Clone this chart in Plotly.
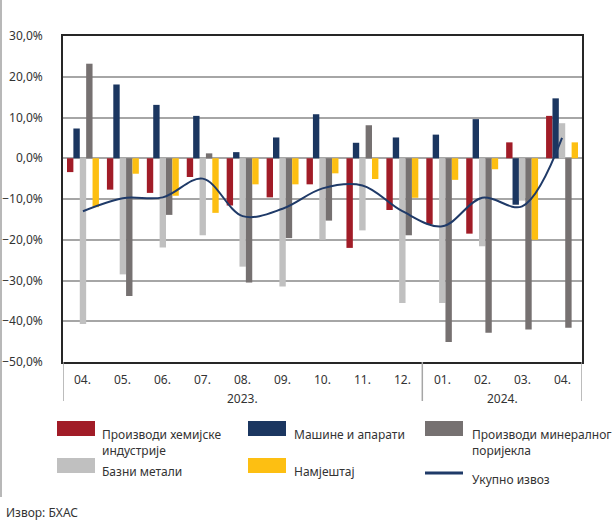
import plotly.graph_objects as go

# ---- data ----
months = ["04.", "05.", "06.", "07.", "08.", "09.", "10.", "11.", "12.", "01.", "02.", "03.", "04."]
years = ["2023.", "2023.", "2023.", "2023.", "2023.", "2023.", "2023.", "2023.", "2023.",
         "2024.", "2024.", "2024.", "2024."]
year_labels = ["2023.", "2024."]

hemija = [-3.4, -7.7, -8.5, -4.6, -11.6, -9.6, -6.4, -22.0, -12.7, -16.2, -18.5, 3.9, 10.4]
masine = [7.3, 18.1, 13.1, 10.4, 1.5, 5.1, 10.8, 3.8, 5.1, 5.8, 9.6, -11.4, 14.7]
bazni = [-40.7, -28.5, -21.9, -18.9, -26.6, -31.5, -20.0, -17.7, -35.5, -35.5, -21.6, -10.4, 8.6]
mineral = [23.2, -33.8, -13.9, 1.2, -30.5, -19.6, -15.3, 8.1, -18.9, -45.1, -42.8, -42.0, -41.6]
namjestaj = [-12.0, -3.8, -9.2, -13.4, -6.4, -6.4, -3.7, -5.1, -9.7, -5.3, -2.7, -20.0, 3.9]
ukupno = [-13.0, -9.8, -9.6, -5.0, -14.2, -12.4, -7.4, -6.7, -13.0, -16.7, -9.7, -11.8, 5.0]

names = {
    "hemija": "Производи хемијске<br>индустрије",
    "masine": "Машине и апарати",
    "mineral": "Производи минералног<br>поријекла",
    "bazni": "Базни метали",
    "namjestaj": "Намјештај",
    "ukupno": "Укупно извоз",
}
colors = {
    "hemija": "#A11C27",
    "masine": "#1B3660",
    "mineral": "#767171",
    "bazni": "#C0C0C0",
    "namjestaj": "#FDBF12",
    "ukupno": "#1F3A68",
}

cats = [m + y for m, y in zip(months, years)]

W, H = 616, 521
L, R, T, B = 63, 582, 36, 362
FONT = "Noto Sans"
TXT = "#333333"


def px(xp):
    return (xp - L) / (R - L)


def py(yp):
    return (B - yp) / (B - T)


fig = go.Figure()
for key, vals in [("hemija", hemija), ("masine", masine), ("bazni", bazni),
                  ("mineral", mineral), ("namjestaj", namjestaj)]:
    fig.add_trace(go.Bar(x=cats, y=vals, name=names[key], marker_color=colors[key],
                         marker_line_width=0, showlegend=False))
fig.add_trace(go.Scatter(x=cats, y=ukupno, name=names["ukupno"], mode="lines",
                         line=dict(color=colors["ukupno"], width=2, shape="spline", smoothing=1.0),
                         showlegend=False))

shapes = []
annotations = []

# month labels
for i, m in enumerate(months):
    annotations.append(dict(x=i, y=py(380), xref="x", yref="paper", text=m, showarrow=False,
                            font=dict(size=12, color=TXT, family=FONT), xanchor="center", yanchor="middle"))
# year labels
spans = []
for yl in year_labels:
    a = years.index(yl)
    b = len(years) - 1 - years[::-1].index(yl)
    spans.append((yl, a, b))
for yl, a, b in spans:
    annotations.append(dict(x=(a + b) / 2, y=py(398), xref="x", yref="paper", text=yl, showarrow=False,
                            font=dict(size=12, color=TXT, family=FONT), xanchor="center", yanchor="middle"))
# separators below the axis
for xv in [-0.5, spans[0][2] + 0.5, len(months) - 0.5]:
    shapes.append(dict(type="line", xref="x", yref="paper", x0=xv, x1=xv, y0=0, y1=py(401),
                       line=dict(color="#A6A6A6", width=1.5)))

# manual legend
legend_items = [
    ("hemija", 57, 421, 100, 432, "bar"),
    ("masine", 248, 421, 292, 432, "bar"),
    ("mineral", 425, 421, 470, 432, "bar"),
    ("bazni", 57, 458, 100, 469, "bar"),
    ("namjestaj", 248, 458, 292, 469, "bar"),
    ("ukupno", 425, 473, 470, 477, "line"),
]
for key, sx, sy, tx, ty, kind in legend_items:
    if kind == "bar":
        shapes.append(dict(type="rect", xref="paper", yref="paper", x0=px(sx), x1=px(sx + 38),
                           y0=py(sy), y1=py(sy + 15), fillcolor=colors[key], line=dict(width=0)))
    else:
        shapes.append(dict(type="line", xref="paper", yref="paper", x0=px(sx), x1=px(sx + 38),
                           y0=py(sy), y1=py(sy), line=dict(color=colors[key], width=3)))
    annotations.append(dict(x=px(tx), y=py(ty - 8), xref="paper", yref="paper", text=names[key],
                            showarrow=False, align="left", xanchor="left", yanchor="top",
                            font=dict(size=12, color=TXT, family=FONT)))

# source
annotations.append(dict(x=px(4), y=py(512), xref="paper", yref="paper", text="Извор: БХАС",
                        showarrow=False, xanchor="left", yanchor="middle",
                        font=dict(size=12, color=TXT, family=FONT)))
# left border line of the image
shapes.append(dict(type="line", xref="paper", yref="paper", x0=px(1), x1=px(1), y0=py(0), y1=py(497),
                   line=dict(color="#A0A0A0", width=1.5)))

fig.update_layout(
    width=W, height=H,
    margin=dict(l=L, r=W - R, t=T, b=H - B, pad=0, autoexpand=False),
    paper_bgcolor="white", plot_bgcolor="white",
    barmode="group", bargap=0.2, bargroupgap=0,
    separators=",.",
    font=dict(family=FONT, size=12, color=TXT),
    shapes=shapes, annotations=annotations,
    showlegend=False,
)
fig.update_xaxes(type="category", showticklabels=False, ticks="", showgrid=False, automargin=False,
                 showline=True, linecolor="#262626", linewidth=1.5, mirror=True,
                 range=[-0.5, len(months) - 0.5])
fig.update_yaxes(range=[-50, 30], dtick=10, tick0=0, tickformat=".1f", ticksuffix="%", automargin=False,
                 showgrid=True, gridcolor="#A6A6A6", gridwidth=1.5, zeroline=False,
                 showline=True, linecolor="#262626", linewidth=1.5, mirror=True,
                 ticks="", ticklabelstandoff=16, tickfont=dict(size=12, color=TXT, family=FONT))

fig.write_html("out.html", post_script="document.body.style.margin='0';",
               config={"displayModeBar": False})
